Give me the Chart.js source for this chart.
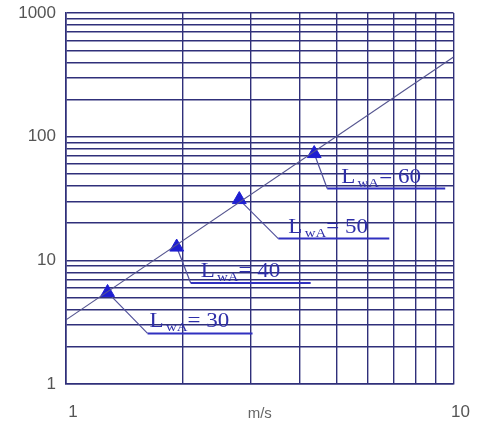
<!DOCTYPE html>
<html>
<head>
<meta charset="utf-8">
<script src="https://cdn.jsdelivr.net/npm/chart.js@4"></script>
<style>
html, body { margin: 0; padding: 0; background: #fff; }
#wrap { width: 481px; height: 426px; }
</style>
</head>
<body>
<div id="wrap"><canvas id="chart" width="481" height="426"></canvas></div>
<script>
// ---- Data ----

// log grid (1..10 m/s, 1..1000)
const xGridValues = [1, 2, 3, 4, 5, 6, 7, 8, 9, 10];
const xTickLabels = [1, 10];
const yGridValues = [1, 2, 3, 4, 5, 6, 7, 8, 9,
    10, 20, 30, 40, 50, 60, 70, 80, 90,
    100, 200, 300, 400, 500, 600, 700, 800, 900, 1000];
const yTickLabels = [1, 10, 100, 1000];

// straight characteristic line
const lineSpeed = [1, 10];
const lineFlow = [3.3, 440];

// LwA markers on the line
const markerSpeed = [1.28, 1.93, 2.80, 4.37];
const markerFlow = [5.5, 12.8, 31, 73];
const markerLwA = [30, 40, 50, 60];

// ---- Colours ----
const gridColor = '#30307a';
const markColor = '#1e1ed2';
const labelColor = '#2e2ea8';

// ---- Callouts (leader + "LwA = xx") ----

function drawLwA(ctx, x, y, value) {
    ctx.save();
    ctx.translate(x, y);
    ctx.scale(1.15, 1);
    ctx.fillStyle = labelColor;
    ctx.textBaseline = 'alphabetic';
    ctx.font = '20px "Liberation Serif"';
    ctx.fillText('L', 0, 0);
    let cx = ctx.measureText('L').width + 2;
    ctx.font = '13px "Liberation Serif"';
    ctx.fillText('wA', cx, 4);
    cx += ctx.measureText('wA').width;
    ctx.font = '20px "Liberation Serif"';
    ctx.fillText('= ' + value, cx, 0);
    ctx.restore();
}

const calloutPlugin = {
    id: 'callouts',
    beforeDatasetsDraw(chart, args, opts) {
        const { ctx, scales: { x, y } } = chart;
        ctx.save();
        markerSpeed.forEach((v, i) => {
            const px = x.getPixelForValue(v);
            const py = y.getPixelForValue(markerFlow[i]);
            const cx = px + opts.dx[i];
            const cy = py + opts.dy[i];
            // diagonal leader
            ctx.strokeStyle = '#50509a';
            ctx.lineWidth = 1.2;
            ctx.beginPath();
            ctx.moveTo(px, py);
            ctx.lineTo(cx, cy);
            ctx.stroke();
            // underline
            ctx.strokeStyle = '#3030c0';
            ctx.lineWidth = 2;
            ctx.beginPath();
            ctx.moveTo(cx, cy);
            ctx.lineTo(cx + opts.len[i], cy);
            ctx.stroke();
        });
        ctx.restore();
    },
    afterDatasetsDraw(chart, args, opts) {
        const { ctx, scales: { x, y } } = chart;
        markerSpeed.forEach((v, i) => {
            const px = x.getPixelForValue(v);
            const py = y.getPixelForValue(markerFlow[i]);
            drawLwA(ctx, px + opts.dx[i] + opts.gap[i], py + opts.dy[i] - 6, markerLwA[i]);
        });
    }
};

// ---- Chart ----

const tickFont = { size: 17, family: '"Liberation Sans", Arial, sans-serif' };

new Chart(document.getElementById('chart'), {
    type: 'scatter',
    data: {
        datasets: [{
            data: lineSpeed.map((v, i) => ({ x: v, y: lineFlow[i] })),
            showLine: true,
            borderColor: '#55558f',
            borderWidth: 1.2,
            pointRadius: 0,
        }, {
            data: markerSpeed.map((v, i) => ({ x: v, y: markerFlow[i] })),
            pointStyle: 'triangle',
            pointRadius: 8,
            backgroundColor: markColor,
            borderColor: markColor,
            borderWidth: 1,
        }]
    },
    options: {
        responsive: false,
        animation: false,
        layout: { padding: { left: 10, right: 23, top: 13, bottom: 0 } },
        plugins: {
            legend: { display: false },
            tooltip: { enabled: false },
            callouts: {
                dx: [40, 14, 39, 13],
                dy: [41, 36, 39, 35],
                len: [105, 120, 111, 118],
                gap: [2, 10, 10, 14],
            },
        },
        scales: {
            x: {
                type: 'logarithmic',
                min: 1,
                max: 10,
                afterBuildTicks: s => { s.ticks = xGridValues.map(v => ({ value: v })); },
                afterFit: s => { s.height = 42; },
                ticks: {
                    autoSkip: false,
                    maxRotation: 0,
                    padding: 18,
                    labelOffset: 7,
                    color: '#555',
                    font: tickFont,
                    callback: v => xTickLabels.includes(v) ? String(v) : '',
                },
                grid: { color: gridColor, lineWidth: 1.4, drawTicks: false },
                border: { color: gridColor, width: 1.6 },
                title: {
                    display: true,
                    text: 'm/s',
                    color: '#666',
                    font: { size: 15, family: '"Liberation Sans", Arial, sans-serif' },
                    padding: { top: 0, bottom: 3 },
                },
            },
            y: {
                type: 'logarithmic',
                min: 1,
                max: 1000,
                afterBuildTicks: s => { s.ticks = yGridValues.map(v => ({ value: v })); },
                afterFit: s => { s.width = 56; s.paddingTop = 0; s.paddingBottom = 0; },
                ticks: {
                    autoSkip: false,
                    padding: 10,
                    color: '#555',
                    font: { size: 17, family: '"Liberation Sans", Arial, sans-serif', lineHeight: 0.5 },
                    callback: v => yTickLabels.includes(v) ? String(v) : '',
                },
                grid: { color: gridColor, lineWidth: 1.4, drawTicks: false },
                border: { color: gridColor, width: 1.6 },
            },
        },
    },
    plugins: [calloutPlugin],
});
</script>
</body>
</html>
